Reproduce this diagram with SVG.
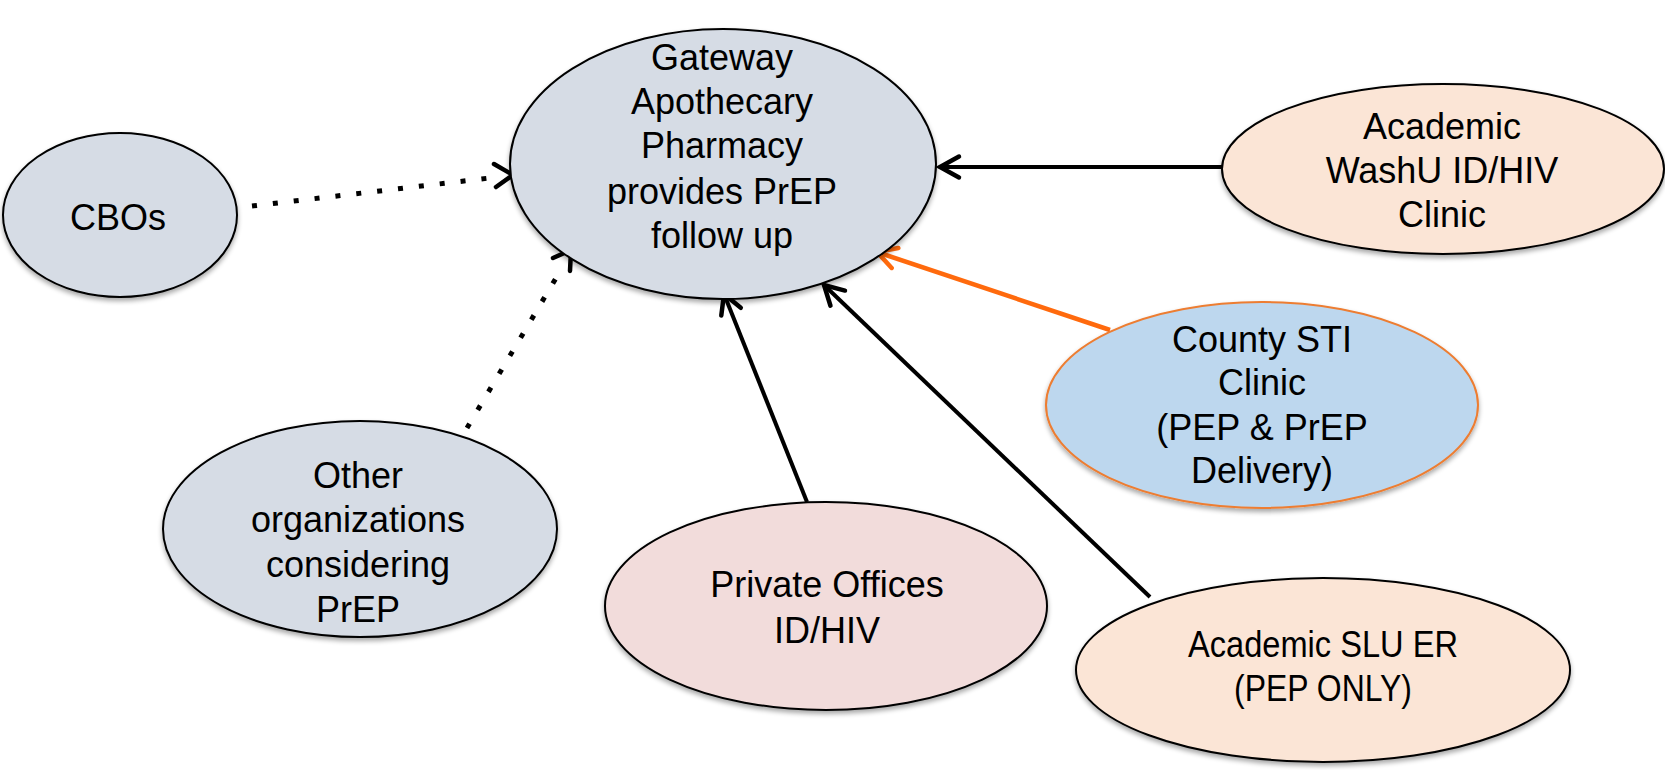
<svg xmlns="http://www.w3.org/2000/svg" width="1665" height="770" viewBox="0 0 1665 770">
<style>
.node ellipse{stroke:#000;stroke-width:2}
.t{font-family:"Liberation Sans",Arial,sans-serif;font-size:36px;fill:#000;text-anchor:middle}
.solid{fill:none;stroke:#000;stroke-width:4}
.dot{fill:none;stroke:#000;stroke-width:5;stroke-dasharray:5 16}
.orange{fill:none;stroke:#FF6A0D;stroke-width:4.5}
.head{fill:none;stroke:#000;stroke-width:4.5;stroke-linecap:round}
</style>
<defs>
<filter id="sh" x="-10%" y="-10%" width="120%" height="125%">
<feGaussianBlur in="SourceAlpha" stdDeviation="2.5"/>
<feOffset dx="0" dy="3" result="b"/>
<feComponentTransfer><feFuncA type="linear" slope="0.35"/></feComponentTransfer>
<feMerge><feMergeNode/><feMergeNode in="SourceGraphic"/></feMerge>
</filter>
<marker id="ah" markerUnits="userSpaceOnUse" markerWidth="40" markerHeight="40" viewBox="-30 -20 40 40" refX="0" refY="0" orient="auto">
<path d="M-19,-10.5 L0,0 L-19,10.5" fill="none" stroke="#000" stroke-width="4.5" stroke-linecap="round"/>
</marker>
<marker id="aho" markerUnits="userSpaceOnUse" markerWidth="40" markerHeight="40" viewBox="-30 -20 40 40" refX="0" refY="0" orient="auto">
<path d="M-19,-10.5 L0,0 L-19,10.5" fill="none" stroke="#FF6A0D" stroke-width="4.5" stroke-linecap="round"/>
</marker>
</defs>
<rect width="1665" height="770" fill="#fff"/>

<g id="connectors">
<line class="dot" x1="252" y1="206" x2="498" y2="177"/>
<path class="head" d="M494,164 L513,175 L496,187"/>
<line class="dot" x1="467" y1="428" x2="562" y2="268"/>
<path class="head" d="M553,258 L571,250 L570,271"/>
<line class="solid" x1="1222" y1="167" x2="940" y2="167" marker-end="url(#ah)"/>
<line class="orange" x1="1110" y1="330" x2="877" y2="252" marker-end="url(#aho)"/>
<line class="solid" x1="807" y1="502" x2="724" y2="294" marker-end="url(#ah)"/>
<line class="solid" x1="1150" y1="597" x2="824" y2="285" marker-end="url(#ah)"/>
</g>

<g id="node-central" class="node">
<ellipse cx="723" cy="164" rx="213" ry="135" fill="#D6DCE5" filter="url(#sh)"/>
<text class="t" x="722" y="70">Gateway</text>
<text class="t" x="722" y="114">Apothecary</text>
<text class="t" x="722" y="158">Pharmacy</text>
<text class="t" x="722" y="204">provides PrEP</text>
<text class="t" x="722" y="248">follow up</text>
</g>

<g id="node-cbos" class="node">
<ellipse cx="120" cy="215" rx="117" ry="82" fill="#D6DCE5" filter="url(#sh)"/>
<text class="t" x="118" y="230">CBOs</text>
</g>

<g id="node-washu" class="node">
<ellipse cx="1443" cy="169" rx="221" ry="85" fill="#FBE5D6" filter="url(#sh)"/>
<text class="t" x="1442" y="139">Academic</text>
<text class="t" x="1442" y="183">WashU ID/HIV</text>
<text class="t" x="1442" y="227">Clinic</text>
</g>

<g id="node-county" class="node">
<ellipse cx="1262" cy="405" rx="216" ry="103" fill="#BDD7EE" style="stroke:#ED7D31" filter="url(#sh)"/>
<text class="t" x="1262" y="352">County STI</text>
<text class="t" x="1262" y="395">Clinic</text>
<text class="t" x="1262" y="440">(PEP &amp; PrEP</text>
<text class="t" x="1262" y="483">Delivery)</text>
</g>

<g id="node-other" class="node">
<ellipse cx="360" cy="529" rx="197" ry="108" fill="#D6DCE5" filter="url(#sh)"/>
<text class="t" x="358" y="488">Other</text>
<text class="t" x="358" y="532">organizations</text>
<text class="t" x="358" y="577">considering</text>
<text class="t" x="358" y="622">PrEP</text>
</g>

<g id="node-private" class="node">
<ellipse cx="826" cy="606" rx="221" ry="104" fill="#F2DCDB" filter="url(#sh)"/>
<text class="t" x="827" y="597">Private Offices</text>
<text class="t" x="827" y="643">ID/HIV</text>
</g>

<g id="node-slu" class="node">
<ellipse cx="1323" cy="670" rx="247" ry="92" fill="#FBE5D6" filter="url(#sh)"/>
<text class="t" x="1323" y="657" textLength="270" lengthAdjust="spacingAndGlyphs">Academic SLU ER</text>
<text class="t" x="1323" y="701" textLength="178" lengthAdjust="spacingAndGlyphs">(PEP ONLY)</text>
</g>
</svg>
